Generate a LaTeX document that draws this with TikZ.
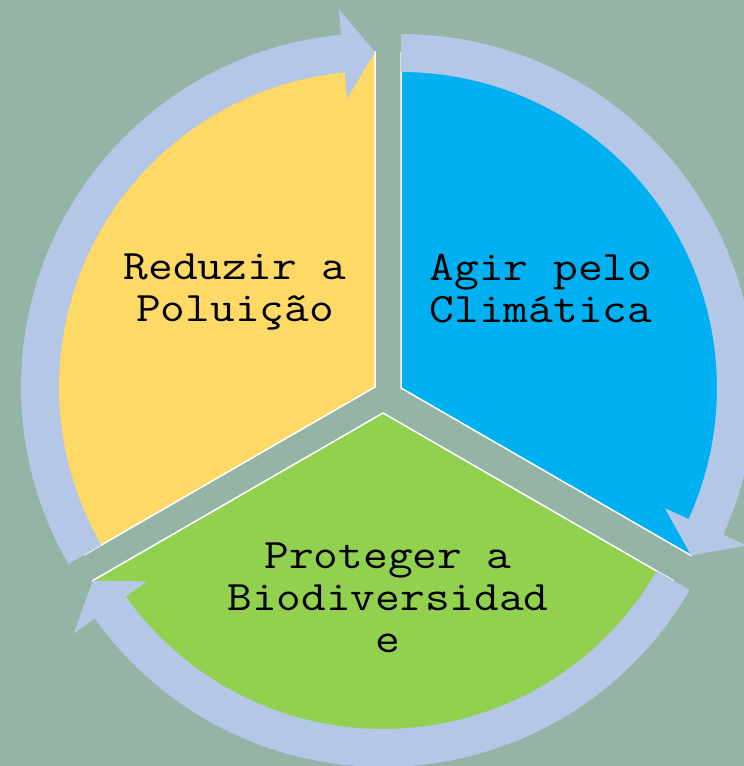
\documentclass[tikz,border=0pt]{standalone}
\usepackage{fontspec}
\newfontfamily\cyclefont[FakeStretch=1.143]{Latin Modern Mono}
\usepackage{tikz}
\usetikzlibrary{positioning,calc}
\definecolor{bgcol}{RGB}{148,180,166}
\definecolor{ringcol}{RGB}{180,199,231}
\definecolor{yellowcol}{RGB}{255,217,102}
\definecolor{bluecol}{RGB}{0,176,240}
\definecolor{greencol}{RGB}{146,208,80}
\tikzstyle{sector} = [draw=white, line width=1.5pt]
\tikzstyle{ring} = [fill=ringcol]
\tikzstyle{cycletext} = [align=center, text=black, font=\cyclefont\fontsize{42}{42}\selectfont]
% circular arrow around one sector: #1 = apex, #2 = angle of the tail
\newcommand{\cyclearrow}[2]{%
  \fill[ring] ([shift={(#1)}]#2:354pt)
    arc[start angle=#2, end angle=#2-114.5, radius=354pt]
    -- ([shift={(#1)}]{#2-114.5}:380pt)
    -- ([shift={(#1)}]{#2-120}:335pt)
    -- ([shift={(#1)}]{#2-114.5}:290pt)
    -- ([shift={(#1)}]{#2-114.5}:316pt)
    arc[start angle=#2-114.5, end angle=#2, radius=316pt] -- cycle;}

\begin{document}
\begin{tikzpicture}[x=1pt, y=1pt]
  \useasboundingbox (0,0) rectangle (744,766);
  \clip (0,0) rectangle (744,766);
  \fill[bgcol] (0,0) rectangle (744,766);

  \coordinate (Yc) at (375,379);
  \coordinate (Bc) at (401,378);
  \coordinate (Gc) at (383,353);

  % sectors
  \filldraw[sector, fill=yellowcol] (Yc) -- ++(90:335pt) arc[start angle=90, end angle=210, radius=335pt] -- cycle;
  \filldraw[sector, fill=bluecol] (Bc) -- ++(90:335pt) arc[start angle=90, end angle=-30, radius=335pt] -- cycle;
  \filldraw[sector, fill=greencol] (Gc) -- ++(-30:335pt) arc[start angle=-30, end angle=-150, radius=335pt] -- cycle;

  % arrows of the cycle
  \cyclearrow{Yc}{210}
  \cyclearrow{Bc}{90}
  \cyclearrow{Gc}{-30}

  \node[cycletext] (reduzir) at (235,474) {Reduzir a\\Poluição};
  \node[cycletext] (agir) at (541,477) {Agir pelo\\Climática};
  \node[cycletext] (proteger) at (388,168) {Proteger a\\Biodiversidad\\e};
\end{tikzpicture}
\end{document}
